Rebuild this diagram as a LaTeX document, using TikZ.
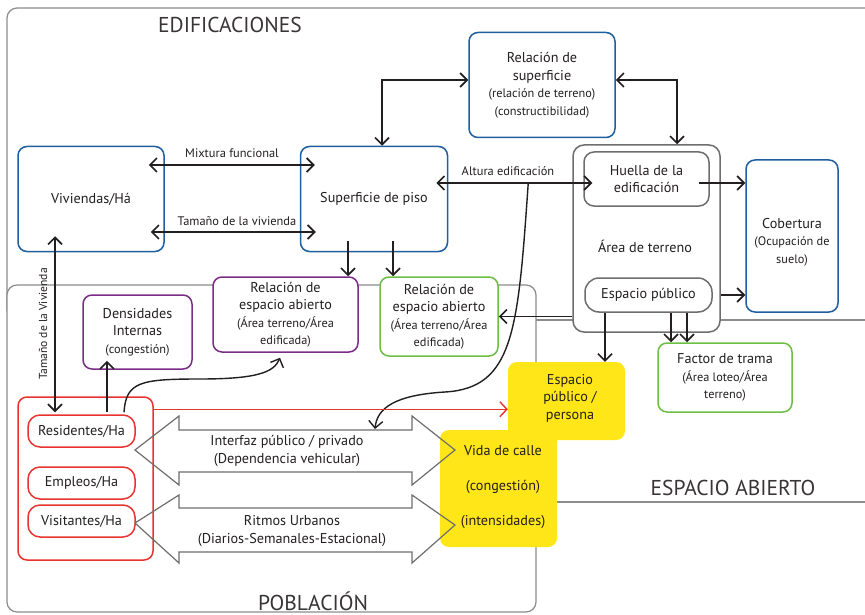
\documentclass[tikz,border=0pt]{standalone}
\usepackage{fontspec}
\setmainfont{PT Sans}
\usetikzlibrary{arrows.meta,calc}
\definecolor{cblue}{HTML}{1F5F9E}
\definecolor{cpurple}{HTML}{7A2C86}
\definecolor{cgreen}{HTML}{6DBE45}
\definecolor{cred}{HTML}{E8332F}
\definecolor{cyellow}{HTML}{FFE619}
\definecolor{cframe}{HTML}{8C8C8C}
\definecolor{cgray}{HTML}{6E6E6E}
\definecolor{ctext}{HTML}{231F20}
\newcommand\fmain{\fontsize{14.2}{17.5}\selectfont}
\newcommand\fsub{\fontsize{12.3}{15}\selectfont}
\newcommand\flab{\fontsize{12.4}{14}\selectfont}
\newcommand\ftitle{\fontsize{21.5}{24}\selectfont}
\begin{document}
\begin{tikzpicture}[x=1pt,y=-1pt,
  frame/.style={draw=cframe, line width=1.2pt, rounded corners=10pt, fill=white},
  box/.style={draw, line width=1.5pt, rounded corners=9pt, fill=white, inner sep=0pt, align=center, text=ctext, font=\fmain},
  bluebox/.style={box, draw=cblue},
  purplebox/.style={box, draw=cpurple},
  greenbox/.style={box, draw=cgreen},
  redbox/.style={box, draw=cred},
  graybox/.style={box, draw=cgray},
  ybox/.style={fill=cyellow, draw=none, rounded corners=9pt, inner sep=0pt, align=center, text=ctext, font=\fmain},
  lab/.style={text=ctext, font=\flab, inner sep=1pt},
  title/.style={text=ctext!90!white, font=\ftitle, inner sep=0pt, anchor=base},
  tip/.tip={Straight Barb[length=7pt,width=14pt]},
  arr/.style={draw=ctext, line width=1.6pt, -tip},
  dbl/.style={draw=ctext, line width=1.6pt, tip-tip},
  bigarrow/.style={draw=cgray, line width=1.2pt, line join=miter}
]
\useasboundingbox (0,0) rectangle (865,615);

% frames
\draw[frame] (7,8) rectangle (885,320);
\draw[frame] (7,285) rectangle (536,612);
\draw[draw=cframe, line width=1.2pt] (536,320) -- (885,320);
\draw[draw=cframe, line width=1.2pt] (536,502) -- (885,502);

\node[title] (tedif) at (230,33) {EDIFICACIONES};
\node[title] (tpob) at (313,610) {POBLACIÓN};
\node[title] (tesp) at (733,495) {ESPACIO ABIERTO};

% boxes
\node[bluebox, minimum width=146pt, minimum height=105pt] (viv) at (91,199) {Viviendas/Há};
\node[bluebox, minimum width=147pt, minimum height=105pt] (sup) at (374,199) {Superficie de piso};
\node[bluebox, minimum width=146pt, minimum height=105pt] (rels) at (542,85)
  {Relación de\\superficie\\{\fsub (relación de terreno)}\\{\fsub (constructibilidad)}};
\node[graybox, rounded corners=11pt, minimum width=147pt, minimum height=187pt] (area) at (646.5,238.5) {};
\node[text=ctext, font=\fmain] (areatxt) at (645,246) {Área de terreno};
\node[graybox, rounded corners=10pt, minimum width=125pt, minimum height=54pt] (huella) at (646.5,179) {Huella de la\\edificación};
\node[graybox, rounded corners=14pt, minimum width=127pt, minimum height=34pt] (esp) at (648.5,295) {Espacio público};
\node[bluebox, minimum width=92pt, minimum height=152pt] (cob) at (792,236) {};
\node[text=ctext, font=\fmain, align=center, inner sep=0pt] (cobtxt) at (792,242)
  {Cobertura\\{\fsub (Ocupación de}\\{\fsub suelo)}};
\node[greenbox, minimum width=118pt, minimum height=79pt] (relea2) at (439,316.5)
  {Relación de\\espacio abierto\\{\fsub (Área terreno/Área}\\{\fsub edificada)}};
\node[purplebox, minimum width=145pt, minimum height=75pt] (rea1) at (285.5,314.5)
  {Relación de\\espacio abierto\\{\fsub (Área terreno/Área}\\{\fsub edificada)}};
\node[purplebox, minimum width=109pt, minimum height=74pt] (dens) at (137.5,332)
  {Densidades\\Internas\\{\fsub (congestión)}};
\node[greenbox, minimum width=134pt, minimum height=69pt] (fact) at (725,377.5)
  {Factor de trama\\{\fsub (Área loteo/Área}\\{\fsub terreno)}};
\node[redbox, minimum width=135pt, minimum height=163pt] (pob) at (85.5,478.5) {};
\node[redbox, rounded corners=12pt, minimum width=107pt, minimum height=32pt] (res) at (81.5,431) {Residentes/Ha};
\node[redbox, rounded corners=12pt, minimum width=107pt, minimum height=32pt] (emp) at (81.5,483) {Empleos/Ha};
\node[redbox, rounded corners=12pt, minimum width=107pt, minimum height=32pt] (vis) at (81.5,521) {Visitantes/Ha};

% yellow
\node[ybox, minimum width=117pt, minimum height=78pt] (espper) at (566.5,401) {};
\node[ybox, minimum width=117pt, minimum height=117pt] (vida) at (498.5,488.5) {};
\node[text=ctext, font=\fmain, align=center, inner sep=0pt] (esppertxt) at (570,398) {Espacio\\público /\\persona};
\node[text=ctext, font=\fmain, align=center, inner sep=0pt] (vidatxt) at (503,487)
  {Vida de calle\\[18pt](congestión)\\[17pt](intensidades)};

% big double arrows
\draw[bigarrow] (135,450) -- (179,416) -- (179,430) -- (412,430) -- (412,416) -- (455,450)
  -- (412,485) -- (412,472) -- (179,472) -- (179,485) -- cycle;
\draw[bigarrow] (135,523) -- (179,495) -- (179,508) -- (412,508) -- (412,495) -- (455,525)
  -- (412,563) -- (412,552) -- (179,552) -- (179,563) -- cycle;
\node[text=ctext, font=\fmain, align=center, inner sep=0pt] (ifztxt) at (287,451)
  {Interfaz público / privado\\(Dependencia vehicular)};
\node[text=ctext, font=\fmain, align=center, inner sep=0pt] (ritxt) at (292,531)
  {Ritmos Urbanos\\(Diarios-Semanales-Estacional)};
\coordinate (ifz) at (375,429);

% connectors
\draw[dbl] ($(viv.east)+(-16,-34)$) -- ($(sup.west)+(15,-34)$);
\node[lab] (lmix) at (232,153) {Mixtura funcional};
\draw[dbl] ($(viv.east)+(-14,33)$) -- ($(sup.west)+(16,33)$);
\node[lab] (ltam) at (237,221) {Tamaño de la vivienda};
\draw[dbl] ($(rels.west)+(0,-5)$) -| ($(sup.north)+(8,0)$);
\draw[dbl] ($(rels.east)+(0,-5)$) -| ($(area.north)+(30.5,0)$);
\draw[dbl] ($(sup.east)+(-12,-16)$) -- ($(sup.east -| huella.west)+(9,-16)$);
\node[lab] (lalt) at (508,171) {Altura edificación};
\coordinate (alt) at ($(sup.east)+(80,-16)$);
\draw[arr, line width=1.4pt] (alt) .. controls (518,330) and (514,388) .. (445,392)
  .. controls (395,395) and (377,408) .. (ifz);
\draw[arr] ($(huella.east)+(-11,4)$) -- ($(huella.east -| cob.west)+(0,4)$);
\draw[arr] (esp.east -| area.east) -- (esp.east -| cob.west);
\draw[arr] (area.west |- relea2.east) -- (relea2.east);
\draw[arr] ($(esp.south)+(-43.5,0)$) -- ($(espper.north)+(38.5,0)$);
\draw[arr] ($(esp.south)+(22.5,0)$) -- ($(fact.north)+(-54,0)$);
\draw[arr] ($(esp.south)+(38.5,0)$) -- ($(fact.north)+(-38,0)$);
\draw[arr] ($(sup.south)+(-26,-11)$) -- ($(rea1.north)+(62.5,0)$);
\draw[arr] ($(sup.south)+(19,-11)$) -- ($(relea2.north)+(-46,0)$);
\draw[dbl] ($(viv.south)+(-36,-16)$) -- ($(res.north)+(-26.5,-2)$);
\node[lab, rotate=90, font=\fontsize{11.6}{13}\selectfont] (ltamv) at (43,324) {Tamaño de la Vivienda};
\draw[arr] ($(res.north)+(25.5,-2)$) -- ($(dens.south)+(-30.5,-9)$);
\draw[arr, line width=1.4pt] ($(res.north)+(42.5,-2)$) .. controls (126,382) and (140,379) .. (200,379)
  .. controls (258,379) and (274,372) .. ($(rea1.south)+(-5.5,5)$);
\draw[draw=cred, line width=1.4pt, -{Straight Barb[length=7pt,width=15pt]}]
  ($(pob.north east)+(0,13)$) -- ($(pob.north east -| espper.west)+(0,13)$);
\end{tikzpicture}
\end{document}
